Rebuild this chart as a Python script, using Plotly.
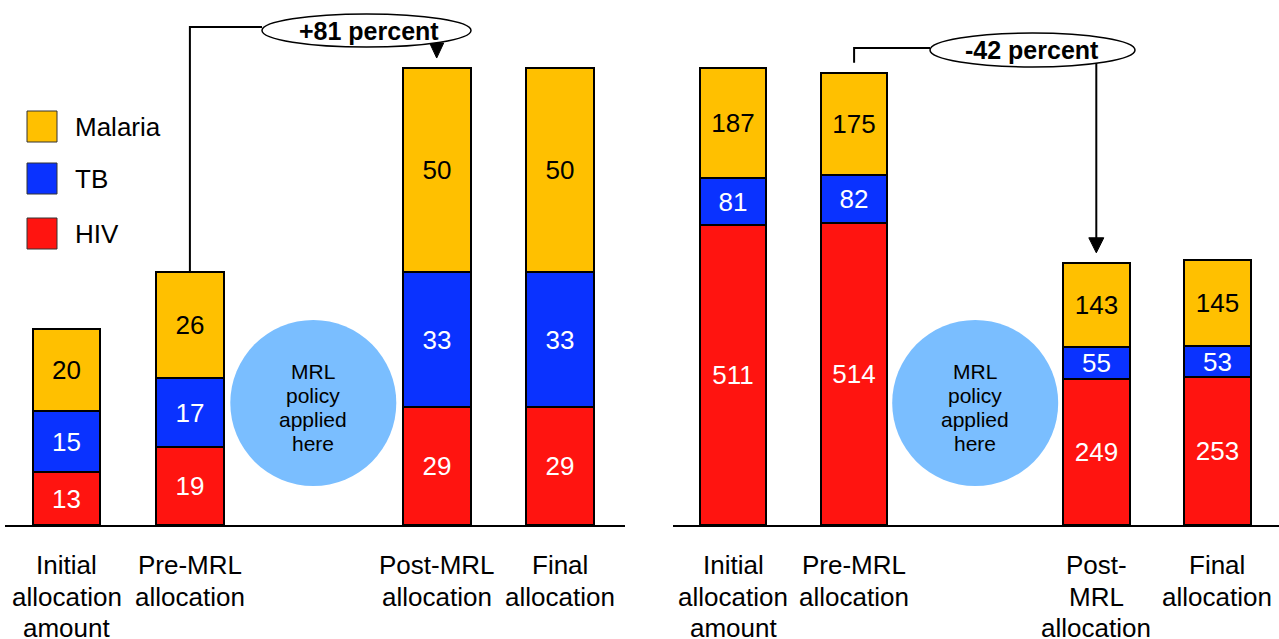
import plotly.graph_objects as go

# ---- data -------------------------------------------------------------
slots = [0, 1, 3, 4]  # slot 2 is left free for the policy bubble
labels_left = ["Initial<br>allocation<br>amount", "Pre-MRL<br>allocation",
               "Post-MRL<br>allocation", "Final<br>allocation"]
labels_right = ["Initial<br>allocation<br>amount", "Pre-MRL<br>allocation",
                "Post-<br>MRL<br>allocation", "Final<br>allocation"]

left_hiv = [13, 19, 29, 29]
left_tb = [15, 17, 33, 33]
left_malaria = [20, 26, 50, 50]

right_hiv = [511, 514, 249, 253]
right_tb = [81, 82, 55, 53]
right_malaria = [187, 175, 143, 145]

left_change = "+81 percent"
right_change = "-42 percent"
bubble_lines = ["MRL", "policy", "applied", "here"]

# ---- styling ----------------------------------------------------------
W, H = 1279, 639
BASE = 525                      # pixel row of the baseline
FONT = "Liberation Sans, Arial, sans-serif"
C_MAL, C_TB, C_HIV = "#FFC000", "#0A32FF", "#FF1410"
C_BUBBLE = "#7ABEFF"

# pixel <-> axis helpers for each panel
L_X0, L_STEP, L_SCALE = 66.5, 123.4, 4.08
R_X0, R_STEP, R_SCALE = 733.0, 121.1, 0.5866


def lx(px):
    return (px - L_X0) / L_STEP


def ly(py):
    return (BASE - py) / L_SCALE


def rx(px):
    return (px - R_X0) / R_STEP


def ry(py):
    return (BASE - py) / R_SCALE


def tot(*series):
    return [sum(v) for v in zip(*series)]


fig = go.Figure()

panels = [
    ("x", "y", left_hiv, left_tb, left_malaria),
    ("x2", "y2", right_hiv, right_tb, right_malaria),
]
for xa, ya, hiv, tb, mal in panels:
    for name, vals, col, tcol in [("HIV", hiv, C_HIV, "white"),
                                  ("TB", tb, C_TB, "white"),
                                  ("Malaria", mal, C_MAL, "black")]:
        fig.add_trace(go.Bar(
            x=slots, y=vals, name=name, xaxis=xa, yaxis=ya, width=0.55,
            marker=dict(color=col, line=dict(color="black", width=2)),
            text=vals, texttemplate="%{text}", textposition="inside",
            insidetextanchor="middle", textangle=0, constraintext="none",
            textfont=dict(family=FONT, size=26, color=tcol),
            showlegend=False, hoverinfo="skip",
        ))

shapes = []
annotations = []

# stage labels under the baseline, one row per text line
for xr, labels in [("x", labels_left), ("x2", labels_right)]:
    for slot, label in zip(slots, labels):
        for i, line in enumerate(label.split("<br>")):
            annotations.append(dict(xref=xr, yref="paper", x=slot,
                                    y=1 - (565 + 31.5 * i) / H,
                                    yanchor="middle", text=line, showarrow=False,
                                    font=dict(family=FONT, size=26, color="black")))

# policy bubbles
for xr, yr, conv in [("x", "y", ly), ("x2", "y2", ry)]:
    shapes.append(dict(type="circle", xref=xr, yref=yr, xsizemode="pixel",
                       ysizemode="pixel", xanchor=2, yanchor=conv(403),
                       x0=-83, x1=83, y0=-83, y1=83,
                       fillcolor=C_BUBBLE, line=dict(width=0), layer="above"))
    for i, line in enumerate(bubble_lines):
        annotations.append(dict(xref=xr, yref=yr, x=2, y=conv(371 + 24 * i),
                                text=line, showarrow=False, yanchor="middle",
                                font=dict(family=FONT, size=21, color="black")))

# left panel: connector, arrow and change label
l_tot = tot(left_hiv, left_tb, left_malaria)
shapes.append(dict(type="path", xref="x", yref="y",
                   path=f"M 1,{l_tot[1]} L 1,{ly(27)} L {lx(262)},{ly(27)}",
                   line=dict(color="black", width=2), layer="above"))
l_tip = l_tot[2] + 10 / L_SCALE
shapes.append(dict(type="path", xref="x", yref="y",
                   path=(f"M 3,{l_tip} L {3 - 7 / L_STEP},{l_tip + 15 / L_SCALE} "
                         f"L {3 + 7 / L_STEP},{l_tip + 15 / L_SCALE} Z"),
                   fillcolor="black", line=dict(color="black", width=1),
                   layer="above"))
shapes.append(dict(type="circle", xref="x", yref="y",
                   x0=lx(262), x1=lx(471), y0=ly(47), y1=ly(14),
                   fillcolor="white", line=dict(color="black", width=1.5),
                   layer="above"))
annotations.append(dict(xref="x", yref="y", x=lx(369), y=ly(30.5),
                        text=f"<b>{left_change}</b>", showarrow=False,
                        font=dict(family=FONT, size=25, color="black")))

# right panel: connector, arrow and change label
r_tot = tot(right_hiv, right_tb, right_malaria)
r_start = r_tot[1] + 10 / R_SCALE
shapes.append(dict(type="path", xref="x2", yref="y2",
                   path=f"M 1,{r_start} L 1,{ry(48)} L {rx(930)},{ry(48)}",
                   line=dict(color="black", width=2), layer="above"))
r_tip = r_tot[2] + 10 / R_SCALE
shapes.append(dict(type="line", xref="x2", yref="y2",
                   x0=3, x1=3, y0=ry(60), y1=r_tip + 14 / R_SCALE,
                   line=dict(color="black", width=2), layer="above"))
shapes.append(dict(type="path", xref="x2", yref="y2",
                   path=(f"M 3,{r_tip} L {3 - 7.5 / R_STEP},{r_tip + 15 / R_SCALE} "
                         f"L {3 + 7.5 / R_STEP},{r_tip + 15 / R_SCALE} Z"),
                   fillcolor="black", line=dict(color="black", width=1),
                   layer="above"))
shapes.append(dict(type="circle", xref="x2", yref="y2",
                   x0=rx(930), x1=rx(1135), y0=ry(67), y1=ry(33),
                   fillcolor="white", line=dict(color="black", width=1.5),
                   layer="above"))
annotations.append(dict(xref="x2", yref="y2", x=rx(1032), y=ry(50),
                        text=f"<b>{right_change}</b>", showarrow=False,
                        font=dict(family=FONT, size=25, color="black")))

# legend key
for name, col, top in [("Malaria", C_MAL, 111), ("TB", C_TB, 163), ("HIV", C_HIV, 218)]:
    shapes.append(dict(type="rect", xref="paper", yref="paper",
                       x0=27 / W, x1=57 / W, y0=1 - (top + 31) / H, y1=1 - top / H,
                       fillcolor=col, line=dict(color="#333333", width=1)))
    annotations.append(dict(xref="paper", yref="paper", x=73 / W,
                            y=1 - (top + 16) / H, xanchor="left",
                            yanchor="middle", text=name, showarrow=False,
                            font=dict(family=FONT, size=26, color="black")))

axis_common = dict(showline=True, linecolor="black", linewidth=2,
                   showgrid=False, zeroline=False, ticks="",
                   showticklabels=False, automargin=False, fixedrange=True)

fig.update_layout(
    width=W, height=H,
    margin=dict(l=0, r=0, t=0, b=0, autoexpand=False),
    paper_bgcolor="white", plot_bgcolor="white",
    barmode="stack", bargap=0,
    font=dict(family=FONT, color="black"),
    xaxis=dict(domain=[5 / W, 625 / W], range=[lx(5), lx(625)],
               anchor="y", **axis_common),
    yaxis=dict(domain=[(H - BASE) / H, 1], range=[0, ly(0)], automargin=False,
               visible=False, fixedrange=True, anchor="x"),
    xaxis2=dict(domain=[673 / W, 1], range=[rx(673), rx(1279)],
                anchor="y2", **axis_common),
    yaxis2=dict(domain=[(H - BASE) / H, 1], range=[0, ry(0)], automargin=False,
                visible=False, fixedrange=True, anchor="x2"),
    shapes=shapes,
    annotations=annotations,
)

fig.write_html("out.html")
